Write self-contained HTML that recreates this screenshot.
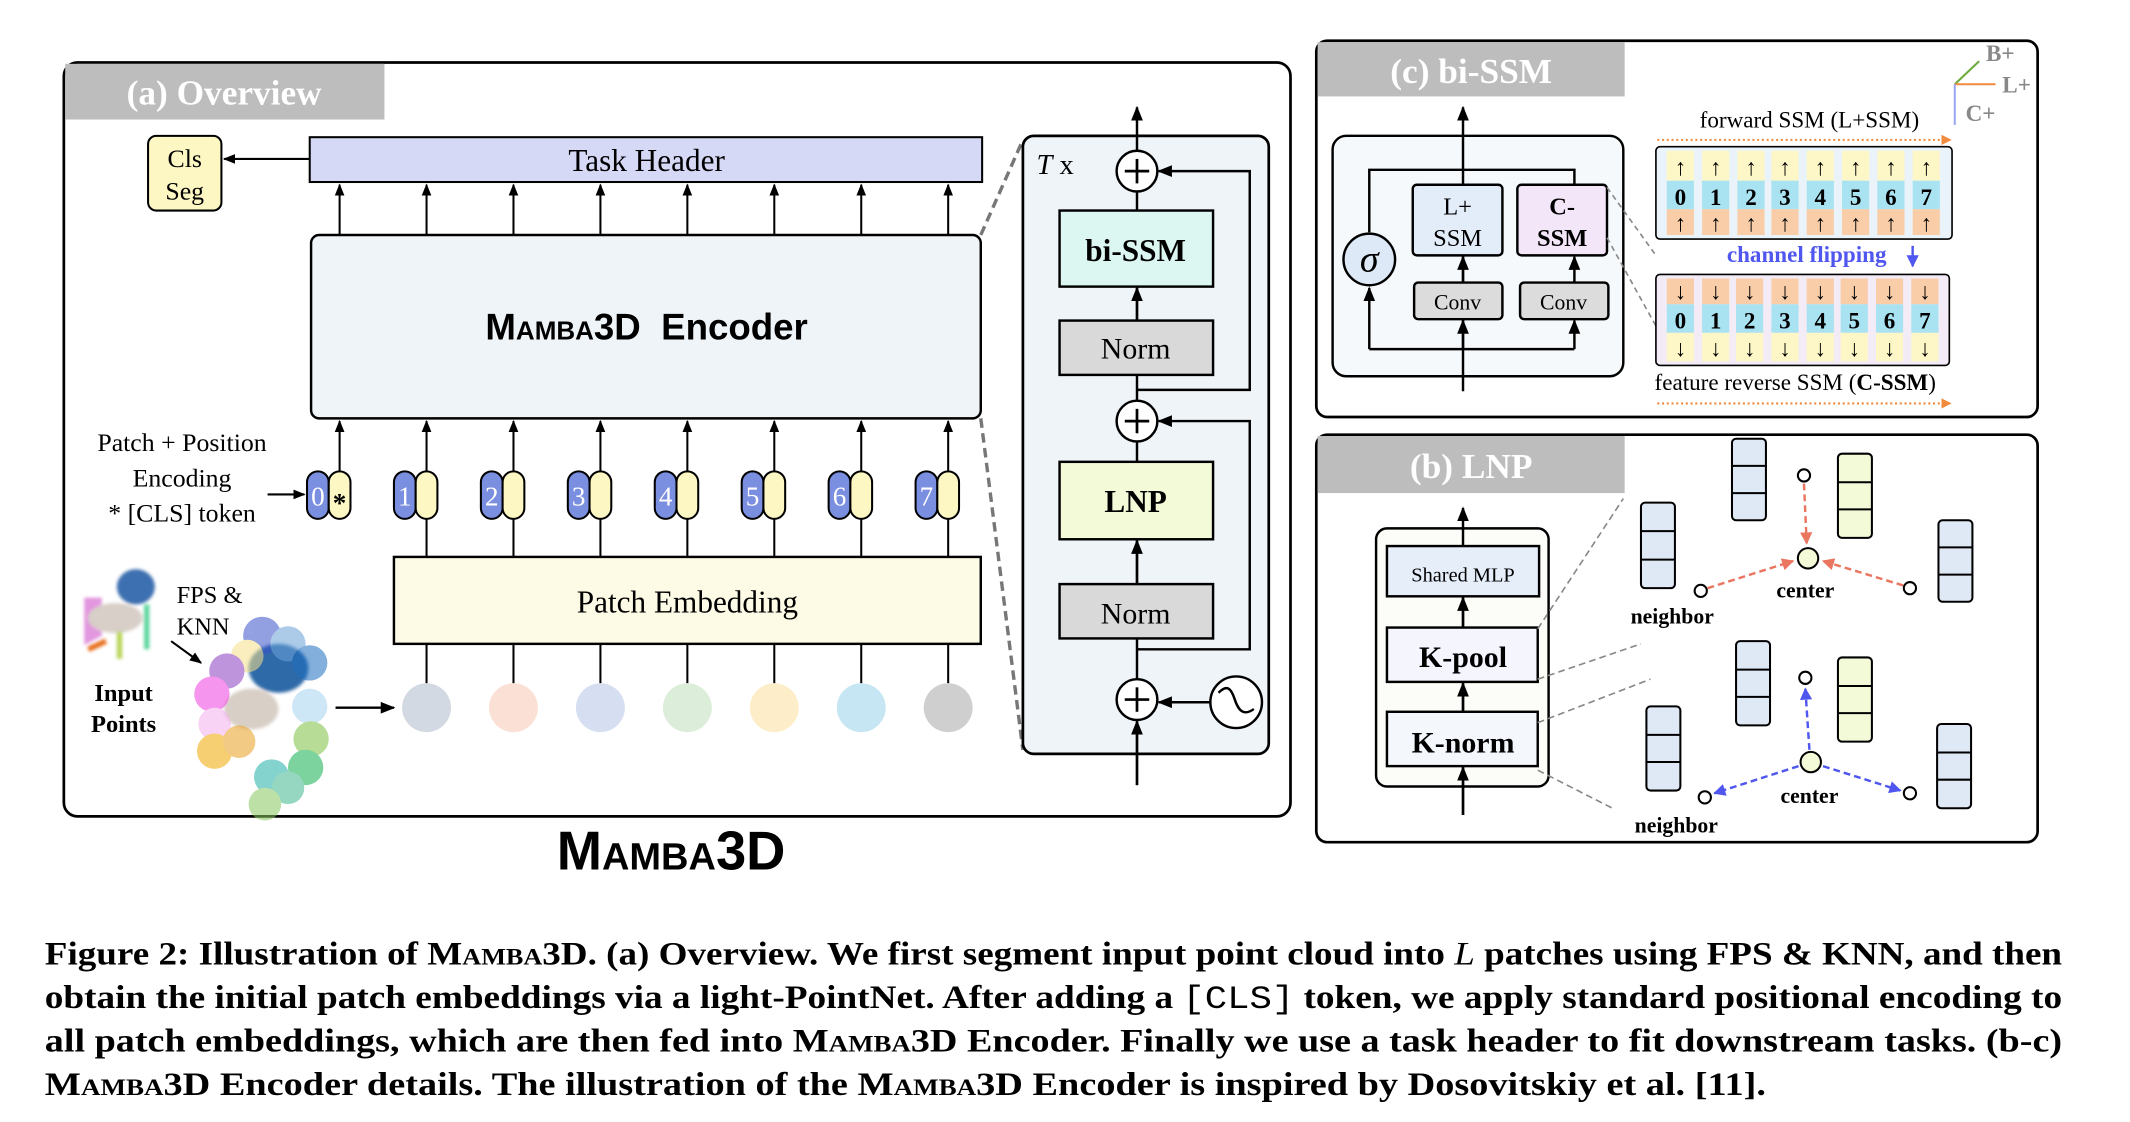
<!DOCTYPE html>
<html><head><meta charset="utf-8"><style>
html,body{margin:0;padding:0;background:#fff;}
svg{display:block;}
text{font-family:"Liberation Serif",serif;}
.sans{font-family:"Liberation Sans",sans-serif;}
</style></head><body>
<svg width="2130" height="1122" viewBox="0 0 1568 826" preserveAspectRatio="none" xmlns="http://www.w3.org/2000/svg">
<defs>
<marker id="ah" viewBox="0 0 10 10" refX="9" refY="5" markerWidth="6" markerHeight="6" orient="auto-start-reverse"><path d="M0,1 L10,5 L0,9 z" fill="#000"/></marker>
<marker id="ao" viewBox="0 0 10 10" refX="9" refY="5" markerWidth="5" markerHeight="5" orient="auto"><path d="M0,0 L10,5 L0,10 z" fill="#f08a3c"/></marker>
<marker id="ar" viewBox="0 0 10 10" refX="9" refY="5" markerWidth="5" markerHeight="5" orient="auto"><path d="M0,0 L10,5 L0,10 z" fill="#ea7660"/></marker>
<marker id="ab" viewBox="0 0 10 10" refX="9" refY="5" markerWidth="5" markerHeight="5" orient="auto"><path d="M0,0 L10,5 L0,10 z" fill="#5057ee"/></marker>
<filter id="bl"><feGaussianBlur stdDeviation="1.2"/></filter>
</defs>

<!-- (a) Overview -->
<rect x="47" y="46" width="903" height="555" rx="10" fill="#fff" stroke="#000" stroke-width="2"/>
<rect x="48" y="47" width="235" height="41" fill="#bdbdbd"/>
<text x="165" y="77" font-size="26" font-weight="bold" fill="#fff" text-anchor="middle">(a) Overview</text>

<rect x="109" y="100" width="54" height="55" rx="6" fill="#fdf7c3" stroke="#000" stroke-width="1.5"/>
<text x="136" y="123" font-size="19" text-anchor="middle">Cls</text>
<text x="136" y="147" font-size="19" text-anchor="middle">Seg</text>
<line x1="228" y1="117" x2="165" y2="117" stroke="#000" stroke-width="1.5" marker-end="url(#ah)"/>

<rect x="228" y="101" width="495" height="33" fill="#d6d9f6" stroke="#000" stroke-width="1.5"/>
<text x="476" y="126" font-size="23" text-anchor="middle">Task Header</text>

<g stroke="#000" stroke-width="1.5">
<line x1="250" y1="173" x2="250" y2="136" marker-end="url(#ah)"/>
<line x1="314" y1="173" x2="314" y2="136" marker-end="url(#ah)"/>
<line x1="378" y1="173" x2="378" y2="136" marker-end="url(#ah)"/>
<line x1="442" y1="173" x2="442" y2="136" marker-end="url(#ah)"/>
<line x1="506" y1="173" x2="506" y2="136" marker-end="url(#ah)"/>
<line x1="570" y1="173" x2="570" y2="136" marker-end="url(#ah)"/>
<line x1="634" y1="173" x2="634" y2="136" marker-end="url(#ah)"/>
<line x1="698" y1="173" x2="698" y2="136" marker-end="url(#ah)"/>
</g>

<rect x="229" y="173" width="493" height="135" rx="6" fill="#eff4f9" stroke="#000" stroke-width="1.8"/>
<text class="sans" x="476" y="250" font-size="27" font-weight="bold" text-anchor="middle"><tspan style="font-variant:small-caps">Mamba3D</tspan>&#160; Encoder</text>

<g stroke="#000" stroke-width="1.5">
<line x1="250" y1="347" x2="250" y2="310" marker-end="url(#ah)"/>
<line x1="314" y1="347" x2="314" y2="310" marker-end="url(#ah)"/>
<line x1="378" y1="347" x2="378" y2="310" marker-end="url(#ah)"/>
<line x1="442" y1="347" x2="442" y2="310" marker-end="url(#ah)"/>
<line x1="506" y1="347" x2="506" y2="310" marker-end="url(#ah)"/>
<line x1="570" y1="347" x2="570" y2="310" marker-end="url(#ah)"/>
<line x1="634" y1="347" x2="634" y2="310" marker-end="url(#ah)"/>
<line x1="698" y1="347" x2="698" y2="310" marker-end="url(#ah)"/>
<line x1="314" y1="410" x2="314" y2="382"/>
<line x1="378" y1="410" x2="378" y2="382"/>
<line x1="442" y1="410" x2="442" y2="382"/>
<line x1="506" y1="410" x2="506" y2="382"/>
<line x1="570" y1="410" x2="570" y2="382"/>
<line x1="634" y1="410" x2="634" y2="382"/>
<line x1="698" y1="410" x2="698" y2="382"/>
</g>
<g stroke="#000" stroke-width="1.5">
<rect x="226" y="347" width="16" height="35" rx="8" fill="#7b8fe0"/><rect x="242" y="347" width="16" height="35" rx="8" fill="#fdf7c3"/>
<rect x="290" y="347" width="16" height="35" rx="8" fill="#7b8fe0"/><rect x="306" y="347" width="16" height="35" rx="8" fill="#fdf7c3"/>
<rect x="354" y="347" width="16" height="35" rx="8" fill="#7b8fe0"/><rect x="370" y="347" width="16" height="35" rx="8" fill="#fdf7c3"/>
<rect x="418" y="347" width="16" height="35" rx="8" fill="#7b8fe0"/><rect x="434" y="347" width="16" height="35" rx="8" fill="#fdf7c3"/>
<rect x="482" y="347" width="16" height="35" rx="8" fill="#7b8fe0"/><rect x="498" y="347" width="16" height="35" rx="8" fill="#fdf7c3"/>
<rect x="546" y="347" width="16" height="35" rx="8" fill="#7b8fe0"/><rect x="562" y="347" width="16" height="35" rx="8" fill="#fdf7c3"/>
<rect x="610" y="347" width="16" height="35" rx="8" fill="#7b8fe0"/><rect x="626" y="347" width="16" height="35" rx="8" fill="#fdf7c3"/>
<rect x="674" y="347" width="16" height="35" rx="8" fill="#7b8fe0"/><rect x="690" y="347" width="16" height="35" rx="8" fill="#fdf7c3"/>
</g>
<g font-size="20" fill="#fff" text-anchor="middle">
<text x="234" y="372">0</text><text x="298" y="372">1</text><text x="362" y="372">2</text><text x="426" y="372">3</text>
<text x="490" y="372">4</text><text x="554" y="372">5</text><text x="618" y="372">6</text><text x="682" y="372">7</text>
</g>
<text x="250" y="377" font-size="20" text-anchor="middle" font-weight="bold">*</text>

<text x="134" y="332" font-size="19" text-anchor="middle">Patch + Position</text>
<text x="134" y="358" font-size="19" text-anchor="middle">Encoding</text>
<text x="134" y="384" font-size="19" text-anchor="middle">* [CLS] token</text>
<line x1="197" y1="364" x2="224" y2="364" stroke="#000" stroke-width="1.5" marker-end="url(#ah)"/>

<rect x="290" y="410" width="432" height="64" fill="#fdfbe6" stroke="#000" stroke-width="1.8"/>
<text x="506" y="451" font-size="23" text-anchor="middle">Patch Embedding</text>

<g stroke="#000" stroke-width="1.5">
<line x1="314" y1="474" x2="314" y2="503"/><line x1="378" y1="474" x2="378" y2="503"/>
<line x1="442" y1="474" x2="442" y2="503"/><line x1="506" y1="474" x2="506" y2="503"/>
<line x1="570" y1="474" x2="570" y2="503"/><line x1="634" y1="474" x2="634" y2="503"/>
<line x1="698" y1="474" x2="698" y2="503"/>
</g>
<circle cx="314" cy="521" r="18" fill="#d3d9e2"/><circle cx="378" cy="521" r="18" fill="#fbe0d5"/>
<circle cx="442" cy="521" r="18" fill="#d6def2"/><circle cx="506" cy="521" r="18" fill="#dcedd9"/>
<circle cx="570" cy="521" r="18" fill="#fdeec9"/><circle cx="634" cy="521" r="18" fill="#c5e6f2"/>
<circle cx="698" cy="521" r="18" fill="#cfcfcf"/>
<line x1="247" y1="521" x2="290" y2="521" stroke="#000" stroke-width="1.8" marker-end="url(#ah)"/>

<!-- input points art -->
<g filter="url(#bl)">
<path d="M62,440 L62,475 L75,468 L75,440 Z" fill="#d56bd0" opacity="0.7"/>
<ellipse cx="100" cy="432" rx="14" ry="13" fill="#3d6fb0"/>
<ellipse cx="85" cy="455" rx="20" ry="11" fill="#d8cfc8"/>
<line x1="88" y1="465" x2="88" y2="485" stroke="#b9d65a" stroke-width="4"/>
<line x1="108" y1="445" x2="108" y2="478" stroke="#60d6a0" stroke-width="4"/>
<line x1="65" y1="478" x2="78" y2="472" stroke="#e8701a" stroke-width="4"/>
<ellipse cx="205" cy="492" rx="22" ry="18" fill="#2f6aa8"/>
<ellipse cx="185" cy="522" rx="20" ry="15" fill="#d8cfc6"/>
</g>
<g opacity="0.55">
<circle cx="193" cy="468" r="14" fill="#3a52c8"/><circle cx="212" cy="474" r="13" fill="#6aa2d8"/>
<circle cx="228" cy="488" r="13" fill="#1e6ec0"/><circle cx="182" cy="483" r="12" fill="#f6e08a"/>
<circle cx="167" cy="494" r="13" fill="#8a3ec0"/><circle cx="156" cy="511" r="13" fill="#ef40e0"/>
<circle cx="158" cy="533" r="12" fill="#f3b0f0"/><circle cx="158" cy="553" r="13" fill="#f0a800"/>
<circle cx="176" cy="546" r="12" fill="#e8a020"/><circle cx="228" cy="520" r="13" fill="#a6d4f0"/>
<circle cx="229" cy="544" r="13" fill="#7cc040"/><circle cx="225" cy="565" r="13" fill="#12b050"/>
<circle cx="200" cy="572" r="13" fill="#20b0a8"/><circle cx="212" cy="580" r="12" fill="#40b890"/>
<circle cx="195" cy="592" r="12" fill="#88c860"/>
</g>
<text x="130" y="444" font-size="18">FPS &amp;</text>
<text x="130" y="467" font-size="18">KNN</text>
<line x1="126" y1="472" x2="148" y2="488" stroke="#000" stroke-width="1.5" marker-end="url(#ah)"/>
<text x="91" y="516" font-size="18" font-weight="bold" text-anchor="middle">Input</text>
<text x="91" y="539" font-size="18" font-weight="bold" text-anchor="middle">Points</text>

<text class="sans" x="494" y="640" font-size="40" font-weight="bold" text-anchor="middle" style="font-variant:small-caps">Mamba3D</text>

<!-- encoder detail -->
<line x1="722" y1="173" x2="753" y2="103" stroke="#777" stroke-width="2.5" stroke-dasharray="7,4"/>
<line x1="722" y1="308" x2="753" y2="552" stroke="#777" stroke-width="2.5" stroke-dasharray="7,4"/>
<rect x="753" y="100" width="181" height="455" rx="8" fill="#eff4f9" stroke="#000" stroke-width="2"/>
<text x="763" y="128" font-size="21"><tspan font-style="italic">T</tspan> x</text>
<line x1="837" y1="578" x2="837" y2="79" stroke="#000" stroke-width="1.8" marker-end="url(#ah)"/>
<line x1="837" y1="236" x2="837" y2="212" stroke="#000" stroke-width="1.8" marker-end="url(#ah)"/>
<line x1="837" y1="430" x2="837" y2="398" stroke="#000" stroke-width="1.8" marker-end="url(#ah)"/>
<line x1="837" y1="578" x2="837" y2="531" stroke="#000" stroke-width="1.8" marker-end="url(#ah)"/>
<polyline points="837,287 920,287 920,126 853,126" fill="none" stroke="#000" stroke-width="1.8" marker-end="url(#ah)"/>
<polyline points="837,478 920,478 920,310 853,310" fill="none" stroke="#000" stroke-width="1.8" marker-end="url(#ah)"/>
<rect x="780" y="155" width="113" height="56" fill="#dcf6f1" stroke="#000" stroke-width="1.8"/>
<text x="836" y="192" font-size="23" font-weight="bold" text-anchor="middle">bi-SSM</text>
<rect x="780" y="236" width="113" height="40" fill="#d9d9d9" stroke="#000" stroke-width="1.8"/>
<text x="836" y="264" font-size="22" text-anchor="middle">Norm</text>
<rect x="780" y="340" width="113" height="57" fill="#f3fad7" stroke="#000" stroke-width="1.8"/>
<text x="836" y="377" font-size="23" font-weight="bold" text-anchor="middle">LNP</text>
<rect x="780" y="430" width="113" height="40" fill="#d9d9d9" stroke="#000" stroke-width="1.8"/>
<text x="836" y="459" font-size="22" text-anchor="middle">Norm</text>
<g fill="#fff" stroke="#000" stroke-width="1.8">
<circle cx="837" cy="126" r="15"/><circle cx="837" cy="310" r="15"/><circle cx="837" cy="515" r="15"/>
<circle cx="910" cy="517" r="19"/>
</g>
<g stroke="#000" stroke-width="2">
<line x1="828" y1="126" x2="846" y2="126"/><line x1="837" y1="117" x2="837" y2="135"/>
<line x1="828" y1="310" x2="846" y2="310"/><line x1="837" y1="301" x2="837" y2="319"/>
<line x1="828" y1="515" x2="846" y2="515"/><line x1="837" y1="506" x2="837" y2="524"/>
</g>
<path d="M897,510 C903,504 906,506 909,515 C912,524 916,527 923,522" fill="none" stroke="#000" stroke-width="1.8"/>
<line x1="891" y1="517" x2="853" y2="517" stroke="#000" stroke-width="1.8" marker-end="url(#ah)"/>

<!-- (c) bi-SSM -->
<rect x="969" y="30" width="531" height="277" rx="8" fill="#fff" stroke="#000" stroke-width="2"/>
<rect x="970" y="31" width="226" height="40" fill="#bdbdbd"/>
<text x="1083" y="61" font-size="26" font-weight="bold" fill="#fff" text-anchor="middle">(c) bi-SSM</text>
<rect x="981" y="100" width="214" height="177" rx="10" fill="#f5f9fc" stroke="#000" stroke-width="1.8"/>
<line x1="1077" y1="288" x2="1077" y2="79" stroke="#000" stroke-width="1.8" marker-end="url(#ah)"/>
<polyline points="1008,171 1008,125 1159,125 1159,136" fill="none" stroke="#000" stroke-width="1.8"/>
<polyline points="1008,257 1159,257" fill="none" stroke="#000" stroke-width="1.8"/>
<line x1="1008" y1="257" x2="1008" y2="212" stroke="#000" stroke-width="1.8" marker-end="url(#ah)"/>
<line x1="1159" y1="257" x2="1159" y2="236" stroke="#000" stroke-width="1.8" marker-end="url(#ah)"/>
<line x1="1077" y1="257" x2="1077" y2="236" stroke="#000" stroke-width="1.8" marker-end="url(#ah)"/>
<line x1="1077" y1="208" x2="1077" y2="189" stroke="#000" stroke-width="1.8" marker-end="url(#ah)"/>
<line x1="1159" y1="208" x2="1159" y2="189" stroke="#000" stroke-width="1.8" marker-end="url(#ah)"/>
<circle cx="1008" cy="191" r="19" fill="#dde9f6" stroke="#000" stroke-width="1.8"/>
<text x="1008" y="200" font-size="28" font-style="italic" text-anchor="middle">σ</text>
<rect x="1040" y="136" width="66" height="52" rx="3" fill="#e3edf9" stroke="#000" stroke-width="1.8"/>
<text x="1073" y="158" font-size="18" text-anchor="middle">L+</text>
<text x="1073" y="181" font-size="18" text-anchor="middle">SSM</text>
<rect x="1117" y="136" width="66" height="52" rx="3" fill="#f3e6f8" stroke="#000" stroke-width="1.8"/>
<text x="1150" y="158" font-size="18" font-weight="bold" text-anchor="middle">C-</text>
<text x="1150" y="181" font-size="18" font-weight="bold" text-anchor="middle">SSM</text>
<rect x="1041" y="208" width="65" height="27" rx="3" fill="#dcdcdc" stroke="#000" stroke-width="1.8"/>
<text x="1073" y="228" font-size="16" text-anchor="middle">Conv</text>
<rect x="1119" y="208" width="65" height="27" rx="3" fill="#dcdcdc" stroke="#000" stroke-width="1.8"/>
<text x="1151" y="228" font-size="16" text-anchor="middle">Conv</text>
<line x1="1183" y1="138" x2="1219" y2="188" stroke="#888" stroke-width="1.2" stroke-dasharray="4,3"/>
<line x1="1183" y1="175" x2="1219" y2="240" stroke="#888" stroke-width="1.2" stroke-dasharray="4,3"/>

<line x1="1439" y1="62" x2="1457" y2="45" stroke="#6aaa3a" stroke-width="1.5"/>
<line x1="1439" y1="62" x2="1469" y2="62" stroke="#f08a3c" stroke-width="1.5"/>
<line x1="1439" y1="62" x2="1439" y2="92" stroke="#9aa6f0" stroke-width="1.5"/>
<text x="1462" y="45" font-size="17" font-weight="bold" fill="#888">B+</text>
<text x="1474" y="68" font-size="17" font-weight="bold" fill="#888">L+</text>
<text x="1447" y="89" font-size="17" font-weight="bold" fill="#888">C+</text>

<text x="1332" y="94" font-size="17" text-anchor="middle">forward SSM (L+SSM)</text>
<line x1="1220" y1="103" x2="1436" y2="103" stroke="#f08a3c" stroke-width="1.5" stroke-dasharray="1.5,2" marker-end="url(#ao)"/>
<rect x="1219" y="108" width="218" height="68" rx="3" fill="#eaf3fa" stroke="#000" stroke-width="1.2"/>
<g>
<g><rect x="1227" y="111" width="20" height="22" fill="#fdf6c6"/><rect x="1227" y="133" width="20" height="21" fill="#a9e2f0"/><rect x="1227" y="154" width="20" height="19" fill="#f8cda8"/></g>
<g><rect x="1253" y="111" width="20" height="22" fill="#fdf6c6"/><rect x="1253" y="133" width="20" height="21" fill="#a9e2f0"/><rect x="1253" y="154" width="20" height="19" fill="#f8cda8"/></g>
<g><rect x="1279" y="111" width="20" height="22" fill="#fdf6c6"/><rect x="1279" y="133" width="20" height="21" fill="#a9e2f0"/><rect x="1279" y="154" width="20" height="19" fill="#f8cda8"/></g>
<g><rect x="1304" y="111" width="20" height="22" fill="#fdf6c6"/><rect x="1304" y="133" width="20" height="21" fill="#a9e2f0"/><rect x="1304" y="154" width="20" height="19" fill="#f8cda8"/></g>
<g><rect x="1330" y="111" width="20" height="22" fill="#fdf6c6"/><rect x="1330" y="133" width="20" height="21" fill="#a9e2f0"/><rect x="1330" y="154" width="20" height="19" fill="#f8cda8"/></g>
<g><rect x="1356" y="111" width="20" height="22" fill="#fdf6c6"/><rect x="1356" y="133" width="20" height="21" fill="#a9e2f0"/><rect x="1356" y="154" width="20" height="19" fill="#f8cda8"/></g>
<g><rect x="1382" y="111" width="20" height="22" fill="#fdf6c6"/><rect x="1382" y="133" width="20" height="21" fill="#a9e2f0"/><rect x="1382" y="154" width="20" height="19" fill="#f8cda8"/></g>
<g><rect x="1408" y="111" width="20" height="22" fill="#fdf6c6"/><rect x="1408" y="133" width="20" height="21" fill="#a9e2f0"/><rect x="1408" y="154" width="20" height="19" fill="#f8cda8"/></g>
</g>
<g font-size="17" font-weight="bold" text-anchor="middle">
<text x="1237" y="129">↑</text><text x="1263" y="129">↑</text><text x="1289" y="129">↑</text><text x="1314" y="129">↑</text><text x="1340" y="129">↑</text><text x="1366" y="129">↑</text><text x="1392" y="129">↑</text><text x="1418" y="129">↑</text>
<text x="1237" y="151">0</text><text x="1263" y="151">1</text><text x="1289" y="151">2</text><text x="1314" y="151">3</text><text x="1340" y="151">4</text><text x="1366" y="151">5</text><text x="1392" y="151">6</text><text x="1418" y="151">7</text>
<text x="1237" y="170">↑</text><text x="1263" y="170">↑</text><text x="1289" y="170">↑</text><text x="1314" y="170">↑</text><text x="1340" y="170">↑</text><text x="1366" y="170">↑</text><text x="1392" y="170">↑</text><text x="1418" y="170">↑</text>
</g>
<text x="1330" y="193" font-size="17" font-weight="bold" fill="#5057ee" text-anchor="middle">channel flipping</text>
<line x1="1408" y1="181" x2="1408" y2="196" stroke="#5057ee" stroke-width="1.8" marker-end="url(#ab)"/>

<rect x="1219" y="202" width="216" height="67" rx="3" fill="#f3ecf7" stroke="#000" stroke-width="1.2"/>
<g>
<g><rect x="1227" y="205" width="20" height="19" fill="#f8cda8"/><rect x="1227" y="224" width="20" height="21" fill="#a9e2f0"/><rect x="1227" y="245" width="20" height="21" fill="#fdf6c6"/></g>
<g><rect x="1253" y="205" width="20" height="19" fill="#f8cda8"/><rect x="1253" y="224" width="20" height="21" fill="#a9e2f0"/><rect x="1253" y="245" width="20" height="21" fill="#fdf6c6"/></g>
<g><rect x="1278" y="205" width="20" height="19" fill="#f8cda8"/><rect x="1278" y="224" width="20" height="21" fill="#a9e2f0"/><rect x="1278" y="245" width="20" height="21" fill="#fdf6c6"/></g>
<g><rect x="1304" y="205" width="20" height="19" fill="#f8cda8"/><rect x="1304" y="224" width="20" height="21" fill="#a9e2f0"/><rect x="1304" y="245" width="20" height="21" fill="#fdf6c6"/></g>
<g><rect x="1330" y="205" width="20" height="19" fill="#f8cda8"/><rect x="1330" y="224" width="20" height="21" fill="#a9e2f0"/><rect x="1330" y="245" width="20" height="21" fill="#fdf6c6"/></g>
<g><rect x="1355" y="205" width="20" height="19" fill="#f8cda8"/><rect x="1355" y="224" width="20" height="21" fill="#a9e2f0"/><rect x="1355" y="245" width="20" height="21" fill="#fdf6c6"/></g>
<g><rect x="1381" y="205" width="20" height="19" fill="#f8cda8"/><rect x="1381" y="224" width="20" height="21" fill="#a9e2f0"/><rect x="1381" y="245" width="20" height="21" fill="#fdf6c6"/></g>
<g><rect x="1407" y="205" width="20" height="19" fill="#f8cda8"/><rect x="1407" y="224" width="20" height="21" fill="#a9e2f0"/><rect x="1407" y="245" width="20" height="21" fill="#fdf6c6"/></g>
</g>
<g font-size="17" font-weight="bold" text-anchor="middle">
<text x="1237" y="220">↓</text><text x="1263" y="220">↓</text><text x="1288" y="220">↓</text><text x="1314" y="220">↓</text><text x="1340" y="220">↓</text><text x="1365" y="220">↓</text><text x="1391" y="220">↓</text><text x="1417" y="220">↓</text>
<text x="1237" y="242">0</text><text x="1263" y="242">1</text><text x="1288" y="242">2</text><text x="1314" y="242">3</text><text x="1340" y="242">4</text><text x="1365" y="242">5</text><text x="1391" y="242">6</text><text x="1417" y="242">7</text>
<text x="1237" y="262">↓</text><text x="1263" y="262">↓</text><text x="1288" y="262">↓</text><text x="1314" y="262">↓</text><text x="1340" y="262">↓</text><text x="1365" y="262">↓</text><text x="1391" y="262">↓</text><text x="1417" y="262">↓</text>
</g>
<text x="1218" y="287" font-size="17">feature reverse SSM (<tspan font-weight="bold">C-SSM</tspan>)</text>
<line x1="1220" y1="297" x2="1436" y2="297" stroke="#f08a3c" stroke-width="1.5" stroke-dasharray="1.5,2" marker-end="url(#ao)"/>

<!-- (b) LNP -->
<rect x="969" y="320" width="531" height="300" rx="8" fill="#fff" stroke="#000" stroke-width="2"/>
<rect x="970" y="321" width="226" height="42" fill="#bdbdbd"/>
<text x="1083" y="352" font-size="26" font-weight="bold" fill="#fff" text-anchor="middle">(b) LNP</text>
<rect x="1013" y="389" width="127" height="190" rx="8" fill="#fcfdf8" stroke="#000" stroke-width="1.8"/>
<line x1="1077" y1="600" x2="1077" y2="374" stroke="#000" stroke-width="1.8" marker-end="url(#ah)"/>
<line x1="1077" y1="462" x2="1077" y2="440" stroke="#000" stroke-width="1.8" marker-end="url(#ah)"/>
<line x1="1077" y1="524" x2="1077" y2="503" stroke="#000" stroke-width="1.8" marker-end="url(#ah)"/>
<line x1="1077" y1="600" x2="1077" y2="565" stroke="#000" stroke-width="1.8" marker-end="url(#ah)"/>
<rect x="1021" y="402" width="112" height="37" fill="#e6eefa" stroke="#000" stroke-width="1.8"/>
<text x="1077" y="428" font-size="15" text-anchor="middle">Shared MLP</text>
<rect x="1021" y="462" width="111" height="40" fill="#f4f5fd" stroke="#000" stroke-width="1.8"/>
<text x="1077" y="491" font-size="22" font-weight="bold" text-anchor="middle">K-pool</text>
<rect x="1021" y="524" width="111" height="40" fill="#f4f8fd" stroke="#000" stroke-width="1.8"/>
<text x="1077" y="554" font-size="22" font-weight="bold" text-anchor="middle">K-norm</text>
<g stroke="#888" stroke-width="1.2" stroke-dasharray="5,3">
<line x1="1132" y1="463" x2="1195" y2="367"/>
<line x1="1132" y1="500" x2="1208" y2="474"/>
<line x1="1132" y1="532" x2="1215" y2="500"/>
<line x1="1132" y1="567" x2="1187" y2="595"/>
</g>
<g stroke="#000" stroke-width="1.5">
<g fill="#dfe8f5"><rect x="1208" y="370" width="25" height="63" rx="3"/><line x1="1208" y1="391" x2="1233" y2="391"/><line x1="1208" y1="412" x2="1233" y2="412"/></g>
<g fill="#dfe8f5"><rect x="1275" y="323" width="25" height="60" rx="3"/><line x1="1275" y1="343" x2="1300" y2="343"/><line x1="1275" y1="363" x2="1300" y2="363"/></g>
<g fill="#f3fad7"><rect x="1353" y="334" width="25" height="62" rx="3"/><line x1="1353" y1="355" x2="1378" y2="355"/><line x1="1353" y1="375" x2="1378" y2="375"/></g>
<g fill="#dfe8f5"><rect x="1427" y="383" width="25" height="60" rx="3"/><line x1="1427" y1="403" x2="1452" y2="403"/><line x1="1427" y1="423" x2="1452" y2="423"/></g>
<g fill="#dfe8f5"><rect x="1212" y="520" width="25" height="62" rx="3"/><line x1="1212" y1="541" x2="1237" y2="541"/><line x1="1212" y1="561" x2="1237" y2="561"/></g>
<g fill="#dfe8f5"><rect x="1278" y="472" width="25" height="62" rx="3"/><line x1="1278" y1="493" x2="1303" y2="493"/><line x1="1278" y1="513" x2="1303" y2="513"/></g>
<g fill="#f3fad7"><rect x="1353" y="484" width="25" height="62" rx="3"/><line x1="1353" y1="505" x2="1378" y2="505"/><line x1="1353" y1="525" x2="1378" y2="525"/></g>
<g fill="#dfe8f5"><rect x="1426" y="533" width="25" height="62" rx="3"/><line x1="1426" y1="554" x2="1451" y2="554"/><line x1="1426" y1="574" x2="1451" y2="574"/></g>
</g>
<g stroke="#ea7660" stroke-width="1.8" stroke-dasharray="5,3">
<line x1="1328" y1="356" x2="1330" y2="400" marker-end="url(#ar)"/>
<line x1="1257" y1="433" x2="1320" y2="413" marker-end="url(#ar)"/>
<line x1="1401" y1="431" x2="1342" y2="413" marker-end="url(#ar)"/>
</g>
<g stroke="#5057ee" stroke-width="1.8" stroke-dasharray="5,3">
<line x1="1332" y1="552" x2="1329" y2="507" marker-end="url(#ab)"/>
<line x1="1324" y1="564" x2="1262" y2="584" marker-end="url(#ab)"/>
<line x1="1342" y1="564" x2="1399" y2="582" marker-end="url(#ab)"/>
</g>
<g stroke="#000" stroke-width="1.5" fill="#fff">
<circle cx="1331" cy="411" r="7.5" fill="#f3fad7"/><circle cx="1328" cy="350" r="4.5"/><circle cx="1252" cy="435" r="4.5"/><circle cx="1406" cy="433" r="4.5"/>
<circle cx="1333" cy="561" r="7.5" fill="#f3fad7"/><circle cx="1329" cy="499" r="4.5"/><circle cx="1255" cy="587" r="4.5"/><circle cx="1406" cy="584" r="4.5"/>
</g>
<g font-size="16" font-weight="bold" text-anchor="middle">
<text x="1329" y="440">center</text><text x="1231" y="459">neighbor</text>
<text x="1332" y="591">center</text><text x="1234" y="613">neighbor</text>
</g>

<!-- caption -->
<g font-size="24" font-weight="bold">
<text x="33" y="710" textLength="1485" lengthAdjust="spacingAndGlyphs">Figure 2: Illustration of <tspan style="font-variant:small-caps">Mamba3D</tspan>. (a) Overview. We first segment input point cloud into <tspan font-style="italic" font-weight="normal">L</tspan> patches using FPS &amp; KNN, and then</text>
<text x="33" y="742" textLength="1485" lengthAdjust="spacingAndGlyphs">obtain the initial patch embeddings via a light-PointNet. After adding a <tspan font-family="Liberation Mono" font-weight="normal">[CLS]</tspan> token, we apply standard positional encoding to</text>
<text x="33" y="774" textLength="1485" lengthAdjust="spacingAndGlyphs">all patch embeddings, which are then fed into <tspan style="font-variant:small-caps">Mamba3D</tspan> Encoder. Finally we use a task header to fit downstream tasks. (b-c)</text>
<text x="33" y="806" textLength="1267" lengthAdjust="spacingAndGlyphs"><tspan style="font-variant:small-caps">Mamba3D</tspan> Encoder details. The illustration of the <tspan style="font-variant:small-caps">Mamba3D</tspan> Encoder is inspired by Dosovitskiy et al. [11].</text>
</g>
</svg>
</body></html>
